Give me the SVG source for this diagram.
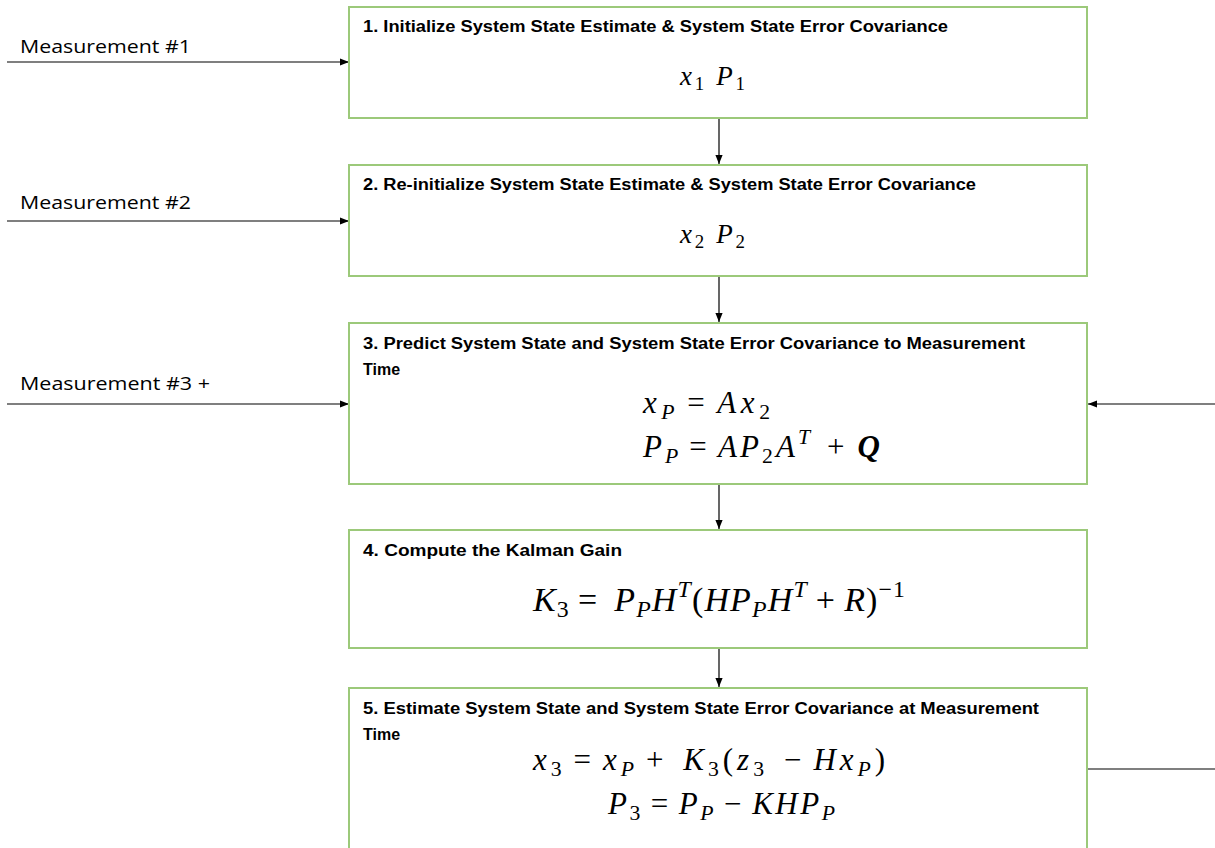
<svg xmlns="http://www.w3.org/2000/svg" width="1215" height="848" viewBox="0 0 1215 848">
<defs>
<marker id="ah" viewBox="0 0 10 10" refX="10" refY="5" markerWidth="9" markerHeight="9" markerUnits="userSpaceOnUse" orient="auto">
<path d="M0,1 L10,5 L0,9 z" fill="#000"/>
</marker>
<style>
.box{fill:#fff;stroke:#9cc97a;stroke-width:2}
.title{font-family:"Liberation Sans Narrow","Liberation Sans",Arial,sans-serif;font-weight:bold;font-size:16px;fill:#000}
.lbl{font-family:"Open Sans","Liberation Sans",sans-serif;font-size:19px;fill:#000}
.m{font-family:"Liberation Serif","DejaVu Serif",serif;font-style:italic;fill:#000}
.n{font-style:normal}
.s{font-size:70%}
.conn{stroke:#000;stroke-width:1.2;fill:none}
</style>
</defs>
<rect width="1215" height="848" fill="#fff"/>
<g id="connectors">
<line class="conn" x1="7" y1="62" x2="349" y2="62" marker-end="url(#ah)"/>
<line class="conn" x1="7" y1="221" x2="349" y2="221" marker-end="url(#ah)"/>
<line class="conn" x1="7" y1="404" x2="349" y2="404" marker-end="url(#ah)"/>
<line class="conn" x1="1215" y1="404" x2="1088" y2="404" marker-end="url(#ah)"/>
<line class="conn" x1="1087" y1="769" x2="1215" y2="769"/>
<line class="conn" x1="719" y1="118" x2="719" y2="164" marker-end="url(#ah)"/>
<line class="conn" x1="719" y1="276" x2="719" y2="322" marker-end="url(#ah)"/>
<line class="conn" x1="719" y1="484" x2="719" y2="529" marker-end="url(#ah)"/>
<line class="conn" x1="719" y1="648" x2="719" y2="687" marker-end="url(#ah)"/>
</g>
<g id="labels">
<text class="lbl" x="20" y="53" textLength="171" lengthAdjust="spacingAndGlyphs">Measurement #1</text>
<text class="lbl" x="20" y="209" textLength="171" lengthAdjust="spacingAndGlyphs">Measurement #2</text>
<text class="lbl" x="20" y="390" textLength="190" lengthAdjust="spacingAndGlyphs">Measurement #3 +</text>
</g>
<g id="node1">
<rect class="box" x="349" y="7" width="738" height="111"/>
<text class="title" x="363" y="32" textLength="585" lengthAdjust="spacingAndGlyphs">1. Initialize System State Estimate &amp; System State Error Covariance</text>
<text class="m" x="680" y="85" font-size="27" textLength="65" lengthAdjust="spacing">x<tspan class="s n" dy="5">1</tspan><tspan dy="-5" dx="9">P</tspan><tspan class="s n" dy="5">1</tspan></text>
</g>
<g id="node2">
<rect class="box" x="349" y="165" width="738" height="111"/>
<text class="title" x="363" y="190" textLength="613" lengthAdjust="spacingAndGlyphs">2. Re-initialize System State Estimate &amp; System State Error Covariance</text>
<text class="m" x="680" y="243" font-size="27" textLength="65" lengthAdjust="spacing">x<tspan class="s n" dy="5">2</tspan><tspan dy="-5" dx="9">P</tspan><tspan class="s n" dy="5">2</tspan></text>
</g>
<g id="node3">
<rect class="box" x="349" y="323" width="738" height="161"/>
<text class="title" x="363" y="349" textLength="662" lengthAdjust="spacingAndGlyphs">3. Predict System State and System State Error Covariance to Measurement</text>
<text class="title" x="363" y="375">Time</text>
<text class="m" x="643" y="413" font-size="31" textLength="127" lengthAdjust="spacing">x<tspan class="s" dy="6">P</tspan><tspan class="n" dy="-6" dx="8">=</tspan><tspan dx="8">Ax</tspan><tspan class="s n" dy="6">2</tspan></text>
<text class="m" x="643" y="457" font-size="31" textLength="237" lengthAdjust="spacing">P<tspan class="s" dy="6">P</tspan><tspan class="n" dy="-6" dx="8">=</tspan><tspan dx="8">AP</tspan><tspan class="s n" dy="6">2</tspan><tspan dy="-6">A</tspan><tspan class="s" dy="-13">T</tspan><tspan class="n" dy="13" dx="14">+</tspan><tspan font-weight="bold" dx="10">Q</tspan></text>
</g>
<g id="node4">
<rect class="box" x="349" y="530" width="738" height="118"/>
<text class="title" x="363" y="556" textLength="259" lengthAdjust="spacingAndGlyphs">4. Compute the Kalman Gain</text>
<text class="m" x="533" y="611" font-size="34" textLength="372" lengthAdjust="spacing">K<tspan class="s n" dy="6">3</tspan><tspan class="n" dy="-6" dx="8">=</tspan><tspan dx="16">P</tspan><tspan class="s" dy="6">P</tspan><tspan dy="-6">H</tspan><tspan class="s" dy="-14">T</tspan><tspan class="n" dy="14">(</tspan>HP<tspan class="s" dy="6">P</tspan><tspan dy="-6">H</tspan><tspan class="s" dy="-14">T</tspan><tspan class="n" dy="14" dx="8">+</tspan><tspan dx="8">R</tspan><tspan class="n">)</tspan><tspan class="s n" dy="-14">−1</tspan></text>
</g>
<g id="node5">
<rect class="box" x="349" y="688" width="738" height="170"/>
<text class="title" x="363" y="714" textLength="676" lengthAdjust="spacingAndGlyphs">5. Estimate System State and System State Error Covariance at Measurement</text>
<text class="title" x="363" y="740">Time</text>
<text class="m" x="533" y="770" font-size="31" textLength="352" lengthAdjust="spacing">x<tspan class="s n" dy="6">3</tspan><tspan class="n" dy="-6" dx="8">=</tspan><tspan dx="8">x</tspan><tspan class="s" dy="6">P</tspan><tspan class="n" dy="-6" dx="8">+</tspan><tspan dx="16">K</tspan><tspan class="s n" dy="6">3</tspan><tspan class="n" dy="-6">(</tspan>z<tspan class="s n" dy="6">3</tspan><tspan class="n" dy="-6" dx="16">−</tspan><tspan dx="8">Hx</tspan><tspan class="s" dy="6">P</tspan><tspan class="n" dy="-6">)</tspan></text>
<text class="m" x="608" y="814" font-size="31" textLength="227" lengthAdjust="spacing">P<tspan class="s n" dy="6">3</tspan><tspan class="n" dy="-6" dx="8">=</tspan><tspan dx="8">P</tspan><tspan class="s" dy="6">P</tspan><tspan class="n" dy="-6" dx="8">−</tspan><tspan dx="8">KHP</tspan><tspan class="s" dy="6">P</tspan></text>
</g>
</svg>
